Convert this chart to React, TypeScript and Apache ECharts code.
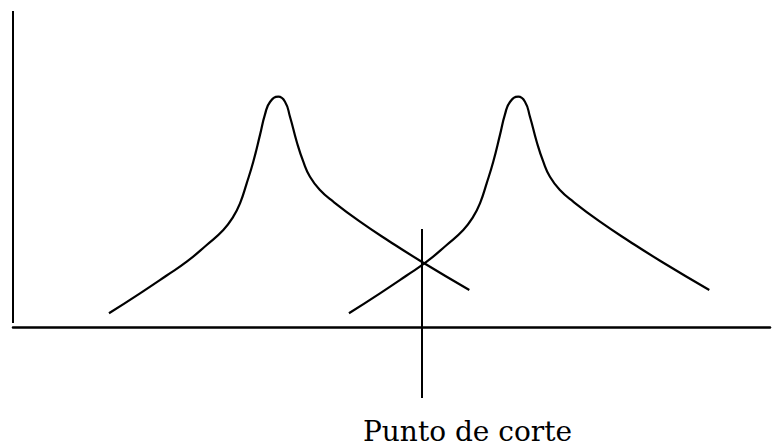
import React, { useEffect, useRef } from "react";
import * as echarts from "echarts";

// Curve readings (x: 0–100 along horizontal axis, y: 0–100 up the vertical axis)
const curveAX = [12.68, 16.78, 20.3, 22.95, 25.59, 27.78, 29.1, 29.99, 30.87, 31.74, 32.63, 33.29, 33.95, 35.05, 35.93, 36.59, 37.48, 38.35, 39.23, 40.55, 42.31, 45.84, 49.8, 53.99, 60.28];
const curveAY = [4.34, 10.66, 16.3, 20.66, 25.95, 30.7, 34.91, 39.15, 45.47, 52.31, 60.8, 67.3, 71.2, 72.88, 71.3, 66.55, 58.64, 52.31, 47.56, 43.35, 39.65, 33.32, 26.99, 20.66, 11.71];
const curveBX = [44.38, 48.48, 52.0, 54.65, 57.29, 59.48, 60.8, 61.69, 62.57, 63.44, 64.33, 64.99, 65.65, 66.75, 67.63, 68.29, 69.18, 70.05, 70.93, 72.25, 74.01, 77.54, 81.5, 85.69, 91.98];
const curveBY = [4.34, 10.66, 16.3, 20.66, 25.95, 30.7, 34.91, 39.15, 45.47, 52.31, 60.8, 67.3, 71.2, 72.88, 71.3, 66.55, 58.64, 52.31, 47.56, 43.35, 39.65, 33.32, 26.99, 20.66, 11.71];

// Vertical axis line extent and cut-point line
const yAxisLineFrom = 1.3;
const yAxisLineTo = 100;
const cutX = 54.0;
const cutTop = 31.0;
const cutBottom = -22.5;
const cutLabel = "Punto de corte";

export default function App() {
  const ref = useRef<HTMLDivElement>(null);
  useEffect(() => {
    if (!ref.current) return;
    const chart = echarts.init(ref.current, null, { renderer: "svg" });
    const lineStyle = { color: "#000", width: 2.2, type: "solid" as const };
    chart.setOption({
      animation: false,
      backgroundColor: "#fff",
      title: {
        text: cutLabel,
        left: 363,
        top: 417,
        padding: 0,
        textStyle: {
          fontFamily: "DejaVu Serif",
          fontSize: 28,
          fontWeight: "normal",
          color: "#000",
        },
      },
      grid: { left: 13, right: 2, top: 11, bottom: 42, containLabel: false },
      xAxis: {
        type: "value",
        min: 0,
        max: 100,
        axisLine: { show: true, onZero: true, lineStyle: { color: "#000", width: 2.5 } },
        axisTick: { show: false },
        axisLabel: { show: false },
        splitLine: { show: false },
      },
      yAxis: {
        type: "value",
        min: -25,
        max: 100,
        axisLine: { show: false },
        axisTick: { show: false },
        axisLabel: { show: false },
        splitLine: { show: false },
      },
      series: [
        {
          type: "line",
          data: curveAX.map((x, i) => [x, curveAY[i]]),
          smooth: 0.5,
          showSymbol: false,
          lineStyle,
          silent: true,
          markLine: {
            silent: true,
            symbol: "none",
            label: { show: false },
            lineStyle: { color: "#000", width: 2, type: "solid" },
            emphasis: { disabled: true },
            data: [
              [{ coord: [0, yAxisLineFrom] }, { coord: [0, yAxisLineTo] }],
              [{ coord: [cutX, cutTop] }, { coord: [cutX, cutBottom] }],
            ],
          },
        },
        {
          type: "line",
          data: curveBX.map((x, i) => [x, curveBY[i]]),
          smooth: 0.5,
          showSymbol: false,
          lineStyle,
          silent: true,
        },
      ],
    });
    return () => chart.dispose();
  }, []);
  return (
    <div
      ref={ref}
      style={{ position: "absolute", left: 0, top: 0, width: 772, height: 448 }}
    />
  );
}
